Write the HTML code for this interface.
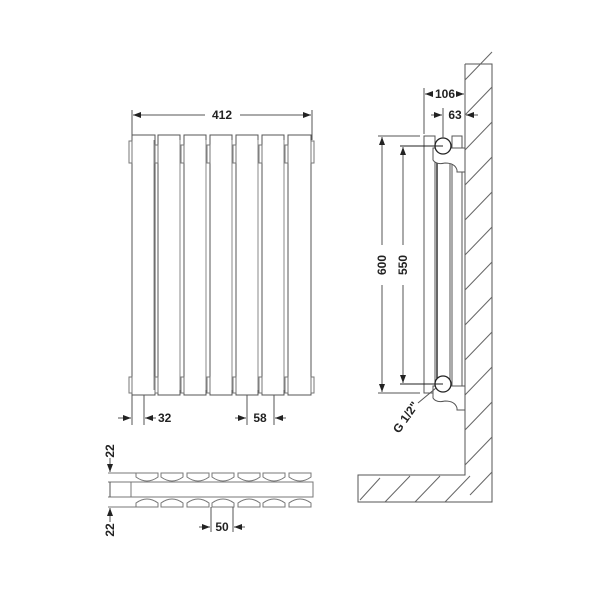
<!DOCTYPE html>
<html><head><style>body{margin:0;background:#fff}svg{display:block}text{font-family:"Liberation Sans",sans-serif;font-weight:bold;font-size:12px;fill:#222}</style></head>
<body>
<svg width="600" height="600" viewBox="0 0 600 600" xmlns="http://www.w3.org/2000/svg">
<defs>
<marker id="a" markerWidth="8" markerHeight="6" refX="8" refY="3" orient="auto" markerUnits="userSpaceOnUse"><path d="M0,0 L8,3 L0,6 z" fill="#222"/></marker>
</defs>
<g stroke="#555" stroke-width="1" fill="none">
<!-- front view -->
<g id="cols">
<rect x="132" y="135" width="23" height="260"/><line x1="155" y1="135" x2="155" y2="395"/>
<rect x="158" y="135" width="22" height="260"/>
<rect x="184" y="135" width="22" height="260"/>
<rect x="210" y="135" width="22" height="260"/>
<rect x="236" y="135" width="22" height="260"/>
<rect x="262" y="135" width="22" height="260"/>
<rect x="288" y="135" width="23" height="260"/>
</g>
<g stroke="#888">
<line x1="154" y1="140" x2="154" y2="390"/><line x1="180" y1="140" x2="180" y2="390"/><line x1="206" y1="140" x2="206" y2="390"/><line x1="232" y1="140" x2="232" y2="390"/><line x1="258" y1="140" x2="258" y2="390"/><line x1="284" y1="140" x2="284" y2="390"/>
</g>
<g stroke="#777">
<rect x="129" y="141" width="3" height="22"/><rect x="311" y="141" width="3" height="22"/>
<rect x="129" y="377" width="3" height="16"/><rect x="311" y="377" width="3" height="16"/>
<rect x="155" y="145" width="3" height="18"/><rect x="181" y="145" width="3" height="18"/><rect x="207" y="145" width="3" height="18"/><rect x="233" y="145" width="3" height="18"/><rect x="259" y="145" width="3" height="18"/><rect x="285" y="145" width="3" height="18"/>
<rect x="155" y="377" width="3" height="16"/><rect x="181" y="377" width="3" height="16"/><rect x="207" y="377" width="3" height="16"/><rect x="233" y="377" width="3" height="16"/><rect x="259" y="377" width="3" height="16"/><rect x="285" y="377" width="3" height="16"/>
</g>
<line x1="132" y1="110" x2="132" y2="140"/><line x1="312" y1="110" x2="312" y2="140"/>
<line x1="205" y1="115" x2="133" y2="115" marker-end="url(#a)"/><line x1="240" y1="115" x2="311" y2="115" marker-end="url(#a)"/>
<line x1="132" y1="395" x2="132" y2="425"/><line x1="144" y1="395" x2="144" y2="425"/>
<line x1="118" y1="418" x2="131" y2="418" marker-end="url(#a)"/><line x1="156" y1="418" x2="145" y2="418" marker-end="url(#a)"/>
<line x1="247" y1="395" x2="247" y2="425"/><line x1="274" y1="395" x2="274" y2="425"/>
<line x1="235" y1="418" x2="246" y2="418" marker-end="url(#a)"/><line x1="286" y1="418" x2="275" y2="418" marker-end="url(#a)"/>
<!-- side view wall -->
<polyline points="465,64 465,475 358,475 358,502 492,502 492,64 465,64"/>
<g stroke="#666">
<line x1="465" y1="80" x2="492" y2="52"/><line x1="465" y1="115" x2="492" y2="87"/><line x1="465" y1="150" x2="492" y2="122"/><line x1="465" y1="185" x2="492" y2="157"/><line x1="465" y1="220" x2="492" y2="192"/><line x1="465" y1="255" x2="492" y2="227"/><line x1="465" y1="290" x2="492" y2="262"/><line x1="465" y1="325" x2="492" y2="297"/><line x1="465" y1="360" x2="492" y2="332"/><line x1="465" y1="395" x2="492" y2="367"/><line x1="465" y1="430" x2="492" y2="402"/><line x1="465" y1="465" x2="492" y2="437"/><line x1="470" y1="495" x2="492" y2="472"/>
<line x1="360" y1="500" x2="380" y2="478"/><line x1="385" y1="502" x2="410" y2="476"/><line x1="415" y1="502" x2="440" y2="476"/><line x1="445" y1="502" x2="470" y2="476"/>
</g>
<!-- radiator side -->
<rect x="424" y="136" width="11" height="257"/>
<rect x="452" y="136" width="10" height="257"/>
<line x1="437" y1="150" x2="437" y2="380" stroke="#333" stroke-width="1.5"/>
<line x1="450" y1="150" x2="450" y2="380"/>
<path d="M433,148 L433,160 Q436,165 445,163 Q455,163 457,170 L457,172 L465,172 L465,148 Z" fill="#fff"/>
<path d="M433,386 L433,398 Q436,403 445,401 Q455,401 457,408 L457,410 L465,410 L465,386 Z" fill="#fff"/>
<circle cx="443" cy="146" r="8" fill="#fff" stroke="#222" stroke-width="1.3"/>
<circle cx="443" cy="384" r="8" fill="#fff" stroke="#222" stroke-width="1.3"/>
<line x1="378" y1="136" x2="420" y2="136"/><line x1="378" y1="393" x2="420" y2="393"/>
<line x1="382" y1="245" x2="382" y2="137" marker-end="url(#a)"/><line x1="382" y1="285" x2="382" y2="392" marker-end="url(#a)"/>
<line x1="400" y1="146" x2="443" y2="146" stroke="#222"/><line x1="400" y1="384" x2="443" y2="384" stroke="#222"/>
<line x1="403" y1="245" x2="403" y2="147" marker-end="url(#a)"/><line x1="403" y1="285" x2="403" y2="383" marker-end="url(#a)"/>
<line x1="424" y1="88" x2="424" y2="134"/>
<line x1="431" y1="94" x2="425" y2="94" marker-end="url(#a)"/><line x1="457" y1="94" x2="464" y2="94" marker-end="url(#a)"/>
<line x1="443" y1="108" x2="443" y2="138"/>
<line x1="431" y1="115" x2="442" y2="115" marker-end="url(#a)"/><line x1="478" y1="115" x2="466" y2="115" marker-end="url(#a)"/>
<line x1="418" y1="403" x2="436" y2="388"/>
<!-- top view -->
<g stroke="#777">
<line x1="108" y1="473" x2="136" y2="473"/><line x1="108" y1="482" x2="131" y2="482"/><line x1="108" y1="497" x2="131" y2="497"/><line x1="108" y1="507" x2="136" y2="507"/>
<rect x="131" y="482" width="182" height="15"/>
<g id="o">
<path d="M136,473 H158 L158,477 Q147,485 136,477 Z"/><path d="M161,473 H183 L183,477 Q172,485 161,477 Z"/><path d="M187,473 H209 L209,477 Q198,485 187,477 Z"/><path d="M212,473 H234 L234,477 Q223,485 212,477 Z"/><path d="M238,473 H260 L260,477 Q249,485 238,477 Z"/><path d="M263,473 H285 L285,477 Q274,485 263,477 Z"/><path d="M289,473 H311 L311,477 Q300,485 289,477 Z"/>
</g>
<path d="M136,507 H158 L158,503 Q147,495 136,503 Z"/><path d="M161,507 H183 L183,503 Q172,495 161,503 Z"/><path d="M187,507 H209 L209,503 Q198,495 187,503 Z"/><path d="M212,507 H234 L234,503 Q223,495 212,503 Z"/><path d="M238,507 H260 L260,503 Q249,495 238,503 Z"/><path d="M263,507 H285 L285,503 Q274,495 263,503 Z"/><path d="M289,507 H311 L311,503 Q300,495 289,503 Z"/>
</g>
<line x1="110" y1="458" x2="110" y2="472" marker-end="url(#a)"/><line x1="110" y1="522" x2="110" y2="508" marker-end="url(#a)"/>
<line x1="110" y1="482" x2="110" y2="497"/>
<line x1="211" y1="507" x2="211" y2="532"/><line x1="233" y1="507" x2="233" y2="532"/>
<line x1="199" y1="527" x2="210" y2="527" marker-end="url(#a)"/><line x1="245" y1="527" x2="234" y2="527" marker-end="url(#a)"/>
</g>
<text x="222" y="119" text-anchor="middle">412</text>
<text x="158" y="422">32</text>
<text x="260" y="422" text-anchor="middle">58</text>
<text x="445" y="98" text-anchor="middle">106</text>
<text x="455" y="119" text-anchor="middle">63</text>
<text transform="translate(386,265) rotate(-90)" text-anchor="middle">600</text>
<text transform="translate(407,265) rotate(-90)" text-anchor="middle">550</text>
<text transform="translate(399,434) rotate(-55)">G 1/2"</text>
<text transform="translate(114,451) rotate(-90)" text-anchor="middle">22</text>
<text transform="translate(114,530) rotate(-90)" text-anchor="middle">22</text>
<text x="222" y="531" text-anchor="middle">50</text>
</svg>
</body></html>
